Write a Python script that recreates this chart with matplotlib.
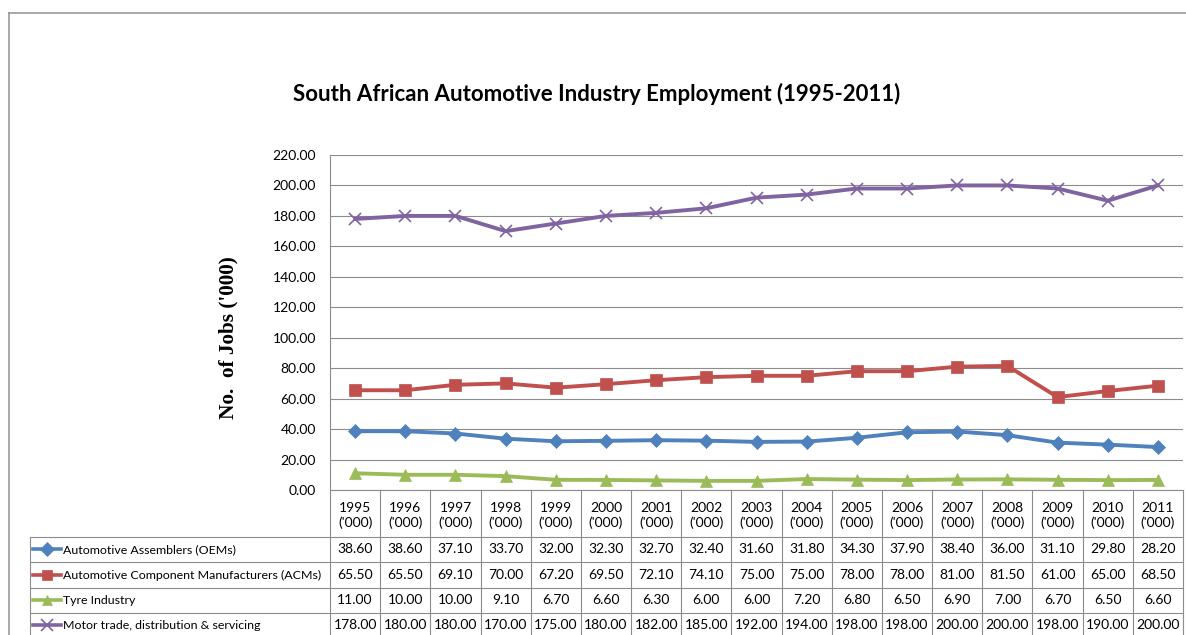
import matplotlib
matplotlib.use("Agg")
import matplotlib.pyplot as plt
from matplotlib import font_manager as fm
from matplotlib.lines import Line2D

# ---- data -------------------------------------------------------------
years = ["1995", "1996", "1997", "1998", "1999", "2000", "2001", "2002", "2003",
         "2004", "2005", "2006", "2007", "2008", "2009", "2010", "2011"]
oems = [38.60, 38.60, 37.10, 33.70, 32.00, 32.30, 32.70, 32.40, 31.60,
        31.80, 34.30, 37.90, 38.40, 36.00, 31.10, 29.80, 28.20]
acms = [65.50, 65.50, 69.10, 70.00, 67.20, 69.50, 72.10, 74.10, 75.00,
        75.00, 78.00, 78.00, 81.00, 81.50, 61.00, 65.00, 68.50]
tyre = [11.00, 10.00, 10.00, 9.10, 6.70, 6.60, 6.30, 6.00, 6.00,
        7.20, 6.80, 6.50, 6.90, 7.00, 6.70, 6.50, 6.60]
motor = [178.00, 180.00, 180.00, 170.00, 175.00, 180.00, 182.00, 185.00, 192.00,
         194.00, 198.00, 198.00, 200.00, 200.00, 198.00, 190.00, 200.00]

series_names = ["Automotive Assemblers (OEMs)",
                "Automotive Component Manufacturers (ACMs)",
                "Tyre Industry",
                "Motor trade, distribution & servicing"]
series_values = [oems, acms, tyre, motor]
series_colors = ["#4F81BD", "#C0504D", "#9BBB59", "#8064A2"]
series_markers = ["D", "s", "^", "x"]
series_msize = [7, 9, 9, 9]

title = "South African Automotive Industry Employment (1995-2011)"
ylabel = "No.  of Jobs ('000)"
yticks = [0, 20, 40, 60, 80, 100, 120, 140, 160, 180, 200, 220]

# ---- fonts ------------------------------------------------------------
available = {f.name for f in fm.fontManager.ttflist}


def pick(*cands):
    for c in cands:
        if c in available:
            return c
    return "DejaVu Sans"


TITLE_FONT = pick("Lato", "Liberation Sans")
BODY_FONT = pick("Lato", "Liberation Sans")
SERIF_FONT = pick("Liberation Serif", "DejaVu Serif")

W, H = 1186, 635
GRID = "#8c8c8c"


def fx(px):
    return px / W


def fy(py):
    return 1 - py / H


fig = plt.figure(figsize=(W / 100, H / 100), dpi=100)
fig.patch.set_facecolor("white")

# outer chart frame
fig.add_artist(Line2D([fx(9), fx(1186)], [fy(13), fy(13)], transform=fig.transFigure,
                      color="#9a9a9a", lw=1.2))
fig.add_artist(Line2D([fx(9), fx(9)], [fy(13), fy(640)], transform=fig.transFigure,
                      color="#9a9a9a", lw=1.2))

# ---- plot area ----------------------------------------------------------
PL, PR, PT, PB = 330, 1183, 155, 490
ax = fig.add_axes([fx(PL), fy(PB), (PR - PL) / W, (PB - PT) / H])
n = len(years)
xs = list(range(n))
ax.set_xlim(-0.5, n - 0.5)
ax.set_ylim(0, 220)
ax.set_yticks(yticks)
ax.set_yticklabels([f"{v:.2f}" for v in yticks], family=BODY_FONT, fontsize=10)
ax.set_xticks([])
ax.tick_params(axis="y", length=0, pad=10, colors="black")
ax.grid(axis="y", color=GRID, lw=0.8)
ax.set_axisbelow(True)
for side in ("top", "right"):
    ax.spines[side].set_visible(False)
for side in ("left", "bottom"):
    ax.spines[side].set_color(GRID)
    ax.spines[side].set_linewidth(0.8)

for vals, col, mk, ms in zip(series_values, series_colors, series_markers, series_msize):
    ax.plot(xs, vals, color=col, lw=2.8, marker=mk, markersize=ms,
            markeredgewidth=1.2 if mk == "x" else 0.5, markeredgecolor=col,
            markerfacecolor=col, clip_on=False, zorder=3)

fig.text(fx(597), fy(94), title, ha="center", va="center", family=TITLE_FONT,
         fontweight="bold", fontsize=16)
fig.text(fx(228), fy(338), ylabel, ha="center", va="center", rotation=90,
         family=SERIF_FONT, fontweight="bold", fontsize=15.3)

# ---- data table -------------------------------------------------------
TL = 30
rows_y = [490, 537, 562, 588, 613, 638]
colw = (PR - PL) / n
tax = fig.add_axes([fx(TL), fy(rows_y[-1]), (PR - TL) / W, (rows_y[-1] - rows_y[0]) / H])
tax.set_xlim(-0.5 - (PL - TL) / colw, n - 0.5)
tax.set_ylim(rows_y[-1], rows_y[0])
tax.axis("off")
left_x = -0.5 - (PL - TL) / colw

line_kw = dict(color=GRID, lw=0.8, clip_on=False)
for i in range(n + 1):
    tax.plot([i - 0.5, i - 0.5], [rows_y[0], rows_y[-1]], **line_kw)
tax.plot([left_x, left_x], [rows_y[1], rows_y[-1]], **line_kw)
for yb in rows_y[1:-1]:
    tax.plot([left_x, n - 0.5], [yb, yb], **line_kw)

for i, yr in enumerate(years):
    tax.text(i, (rows_y[0] + rows_y[1]) / 2 + 2, f"{yr}\n('000)", ha="center", va="center",
             family=BODY_FONT, fontsize=10, linespacing=1.25)

for r, (name, vals, col, mk) in enumerate(zip(series_names, series_values,
                                               series_colors, series_markers)):
    yc = (rows_y[r + 1] + rows_y[r + 2]) / 2
    for i, v in enumerate(vals):
        tax.text(i, yc, f"{v:.2f}", ha="center", va="center", family=BODY_FONT, fontsize=10)
    # legend key inside the table
    kx0 = left_x + 3 / colw
    kx1 = left_x + 31 / colw
    tax.plot([kx0, kx1], [yc, yc], color=col, lw=2.6, clip_on=False)
    tax.plot([(kx0 + kx1) / 2], [yc], marker=mk, color=col,
             markersize=7 if mk != "x" else 8, markeredgewidth=1.2 if mk == "x" else 0.5,
             clip_on=False)
    tax.text(left_x + 33 / colw, yc, name, ha="left", va="center",
             family=BODY_FONT, fontsize=8.9)

fig.savefig("out.png", dpi=100, facecolor="white")
